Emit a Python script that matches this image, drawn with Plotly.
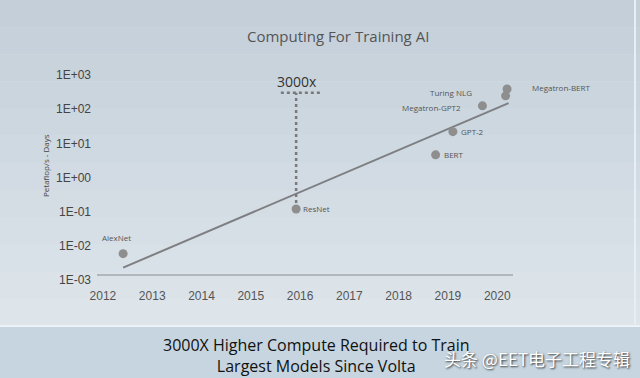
import numpy as np
import plotly.graph_objects as go

# ---- data ----
models = ["AlexNet", "ResNet", "BERT", "GPT-2", "Megatron-GPT2", "Turing NLG", "Megatron-BERT"]
years = [2012.41, 2015.92, 2018.75, 2019.10, 2019.70, 2020.17, 2020.20]
pf_days = [0.0059, 0.12, 4.6, 22, 125, 245, 390]

trend_years = [2012.41, 2020.23]
trend_vals = [0.0023, 151]

gap_year = 2015.92
gap_low, gap_high = 0.12, 300
gap_bar_years = [2015.61, 2016.42]

year_ticks = [2012, 2013, 2014, 2015, 2016, 2017, 2018, 2019, 2020]
y_tickvals = [1e-3, 1e-2, 1e-1, 1e0, 1e1, 1e2, 1e3]
y_ticktext = ["1E-03", "1E-02", "1E-01", "1E+00", "1E+01", "1E+02", "1E+03"]

# label offsets (style)
label_style = {
    "AlexNet": dict(xanchor="center", xshift=-7, yshift=16),
    "ResNet": dict(xanchor="left", xshift=5, yshift=0),
    "BERT": dict(xanchor="left", xshift=6, yshift=0),
    "GPT-2": dict(xanchor="left", xshift=6, yshift=0),
    "Megatron-GPT2": dict(xanchor="right", xshift=-19, yshift=-2),
    "Turing NLG": dict(xanchor="right", xshift=-32, yshift=3),
    "Megatron-BERT": dict(xanchor="left", xshift=23, yshift=1),
}

W, H = 640, 378
mt, mb, ml, mr = 75, 98, 97, 127
ph = H - mt - mb
pw = W - ml - mr


def py(p):
    return (H - mb - p) / ph


def px(p):
    return (p - ml) / pw


fig = go.Figure()

# trend line
fig.add_trace(go.Scatter(x=trend_years, y=trend_vals, mode="lines",
                         line=dict(color="#7d7f82", width=2), hoverinfo="skip"))
# 3000x dotted bracket
fig.add_trace(go.Scatter(x=[gap_year, gap_year], y=[gap_low, gap_high], mode="lines",
                         line=dict(color="#7a7a7a", width=2.5, dash="dot"), hoverinfo="skip"))
fig.add_trace(go.Scatter(x=gap_bar_years, y=[gap_high, gap_high], mode="lines",
                         line=dict(color="#7a7a7a", width=2.5, dash="dot"), hoverinfo="skip"))
# points
fig.add_trace(go.Scatter(x=years, y=pf_days, mode="markers",
                         marker=dict(color="#8e8e8e", size=9), hoverinfo="skip"))

shapes = []
# background gradient bands
top_c = np.array([0xc3, 0xcf, 0xd9])
bot_c = np.array([0xdf, 0xe6, 0xec])
n = 12
for i in range(n):
    p0 = 326 * i / n
    p1 = 326 * (i + 1) / n
    c = top_c + (bot_c - top_c) * (i + 0.5) / n
    shapes.append(dict(type="rect", xref="paper", yref="paper", x0=px(-5), x1=px(W + 5),
                       y0=py(p1), y1=py(p0),
                       fillcolor="rgb(%d,%d,%d)" % tuple(c), line=dict(width=0), layer="below"))
# bottom band
shapes.append(dict(type="rect", xref="paper", yref="paper", x0=px(-5), x1=px(W + 5), y0=py(H + 5), y1=py(326),
                   fillcolor="#c6d5e0", line=dict(width=0), layer="below"))
shapes.append(dict(type="line", xref="paper", yref="paper", x0=px(-5), x1=px(W + 5), y0=py(326), y1=py(326),
                   line=dict(color="#eef3f7", width=2), layer="below"))
# right border
shapes.append(dict(type="line", xref="paper", yref="paper", x0=px(635), x1=px(635), y0=py(324), y1=py(0),
                   line=dict(color="#e9eef2", width=2), layer="below"))
# x axis baseline
shapes.append(dict(type="line", xref="paper", yref="paper", x0=0, x1=1, y0=py(275), y1=py(275),
                   line=dict(color="#a3a8ad", width=1.5)))

annotations = []
for m, x, y in zip(models, years, pf_days):
    s = label_style[m]
    annotations.append(dict(x=x, y=np.log10(y), xref="x", yref="y", text=m, showarrow=False,
                            font=dict(family="Open Sans", size=8, color="#555"),
                            yanchor="middle", **s))
annotations.append(dict(x=gap_year, y=np.log10(gap_high), xref="x", yref="y", text="3000x",
                        showarrow=False, yshift=11, xshift=1, xanchor="center", yanchor="middle",
                        font=dict(family="Open Sans", size=14, color="#333")))
annotations.append(dict(x=px(337.5), y=py(36), xref="paper", yref="paper",
                        xanchor="center", yanchor="middle",
                        text="Computing For Training AI", showarrow=False,
                        font=dict(family="Open Sans", size=15, color="#555")))
annotations.append(dict(x=px(316), y=py(355), xref="paper", yref="paper",
                        xanchor="center", yanchor="middle",
                        text="3000X Higher Compute Required to Train<br>Largest Models Since Volta",
                        showarrow=False, align="center",
                        font=dict(family="Open Sans", size=16, color="#111")))
annotations.append(dict(x=px(45), y=py(166), xref="paper", yref="paper",
                        xanchor="center", yanchor="middle",
                        text="Petaflop/s - Days", textangle=-90, showarrow=False,
                        font=dict(family="Open Sans", size=8, color="#444")))
annotations.append(dict(x=px(537), y=py(358), xref="paper", yref="paper",
                        xanchor="center", yanchor="middle",
                        text="头条 @EET电子工程专辑", showarrow=False,
                        font=dict(family="Noto Sans CJK SC", size=17, color="#ffffff",
                                  shadow="1px 1px 2px #333")))

fig.update_layout(
    width=W, height=H,
    margin=dict(l=ml, r=mr, t=mt, b=mb, pad=0),
    paper_bgcolor="#d3dde5", plot_bgcolor="rgba(0,0,0,0)",
    showlegend=False,
    shapes=shapes, annotations=annotations,
    xaxis=dict(range=[2011.88, 2020.32], tickvals=year_ticks, showgrid=False, zeroline=False,
               showline=False, ticks="", ticklabelstandoff=7,
               tickfont=dict(family="Liberation Sans", size=12, color="#555")),
    yaxis=dict(type="log", range=[-3, 3], tickvals=y_tickvals, ticktext=y_ticktext,
               showgrid=False, zeroline=False, showline=False, ticks="", ticklabelstandoff=5,
               tickfont=dict(family="Liberation Sans", size=12, color="#444")),
)

fig.write_html("out.html", config={"displayModeBar": False},
               post_script="document.body.style.margin='0';")
